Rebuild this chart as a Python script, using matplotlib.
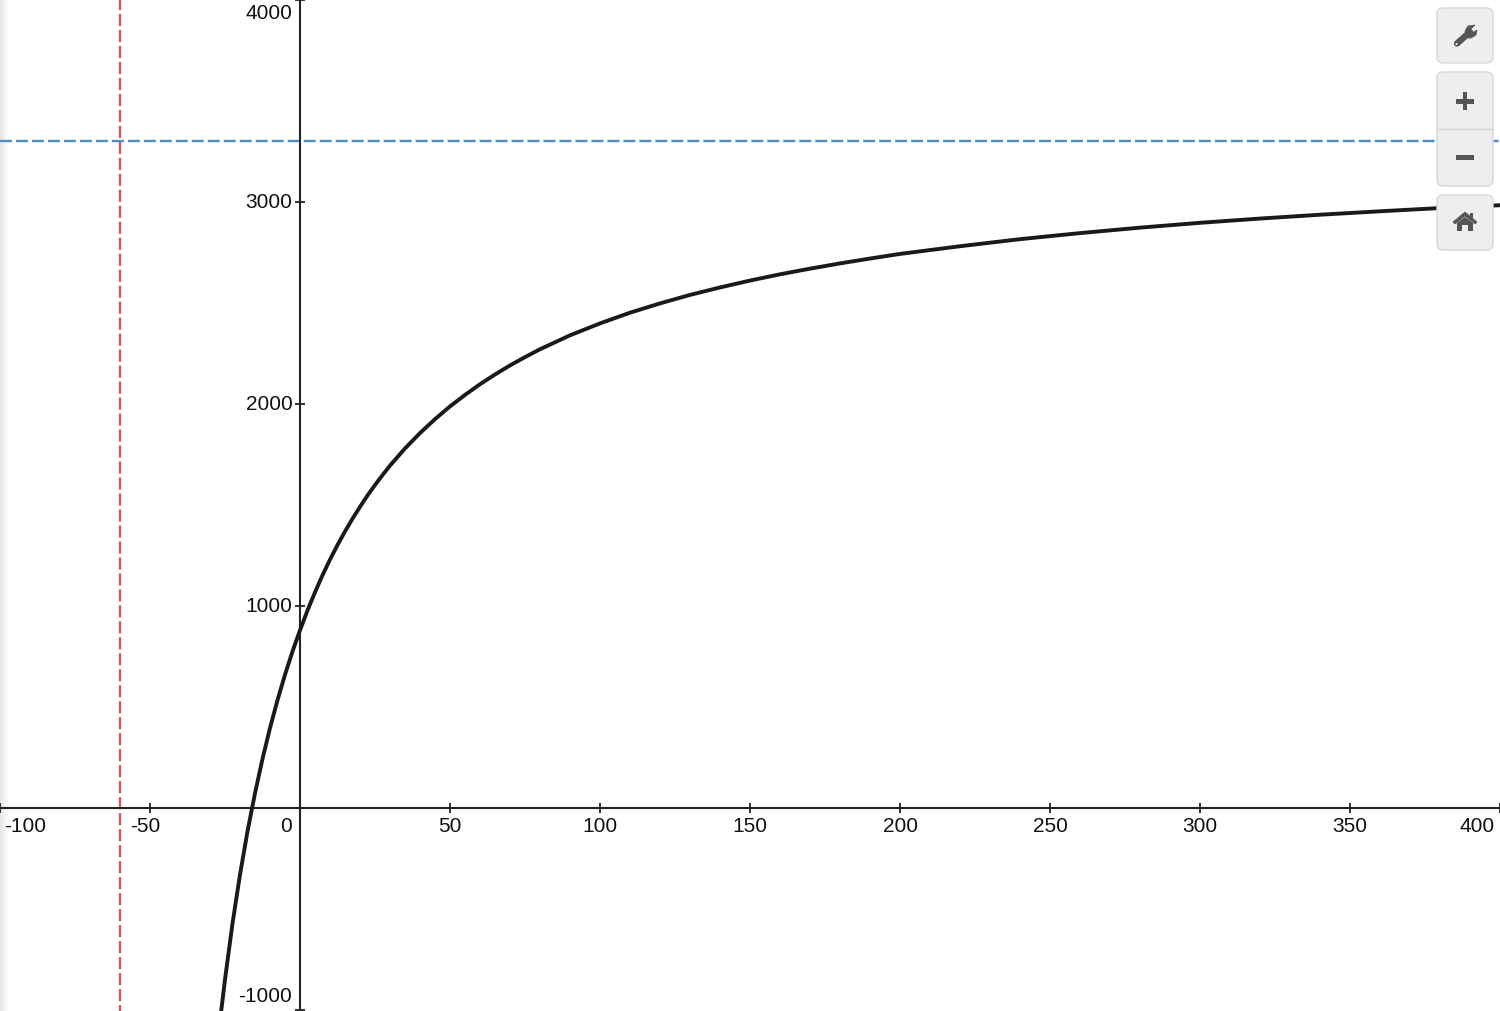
import numpy as np
import matplotlib.pyplot as plt
from matplotlib.patches import FancyBboxPatch, Polygon, Circle, Rectangle

plt.rcParams['font.family'] = ['Liberation Sans', 'DejaVu Sans']

curve_x = [-26.5, -25, -22.5, -20, -17.5, -15, -12.5, -10, -7.5, -5, -2.5, 0, 2.5, 5, 7.5, 10, 12.5, 15, 17.5, 20,
           22.5, 25, 27.5, 30, 35, 40, 45, 50, 55, 60, 65, 70, 75, 80, 90, 100, 110, 120, 130, 140,
           150, 160, 170, 180, 190, 200, 220, 240, 260, 280, 300, 320, 340, 360, 380, 400]
curve_y = [-1034, -849, -572, -330, -116, 73, 243, 396, 534, 660, 775, 880, 978, 1068, 1152, 1230, 1302, 1369, 1432, 1491,
           1547, 1599, 1648, 1695, 1780, 1856, 1925, 1988, 2045, 2098, 2146, 2191, 2232, 2271, 2340, 2399, 2452, 2498, 2540, 2577,
           2611, 2642, 2670, 2696, 2720, 2743, 2781, 2816, 2846, 2873, 2897, 2918, 2937, 2954, 2970, 2984]
asymptote_x = -60
asymptote_y = 3300
x_ticks = [-100, -50, 0, 50, 100, 150, 200, 250, 300, 350, 400]
x_labels = ['-100', '-50', '0', '50', '100', '150', '200', '250', '300', '350', '400']
y_ticks = [-1000, 1000, 2000, 3000, 4000]
y_labels = ['-1000', '1000', '2000', '3000', '4000']

fig = plt.figure(figsize=(15, 10.11), dpi=100)

# shaded left edge goes behind everything
bg = fig.add_axes([0, 0, 1, 1])
bg.axis('off')
shade = np.linspace(0.90, 1, 12).reshape(1, -1)
bg.imshow(shade, extent=(0, 9, 1011, 0), cmap='gray', vmin=0, vmax=1, aspect='auto')
bg.set_xlim(0, 1500)
bg.set_ylim(1011, 0)

ax = fig.add_axes([0, 0, 1, 1], facecolor='none')
ax.set_xlim(-100, 400)
ax.set_ylim(-1005, 4000)

for name in ['top', 'right']:
    ax.spines[name].set_visible(False)
ax.spines['left'].set_position(('data', 0))
ax.spines['bottom'].set_position(('data', 0))
ax.spines['left'].set_linewidth(1.5)
ax.spines['bottom'].set_linewidth(1.5)
ax.spines['left'].set_color('#222222')
ax.spines['bottom'].set_color('#222222')
ax.set_xticks([t for t in x_ticks if t != 0])
ax.set_yticks(y_ticks)
ax.set_xticklabels([])
ax.set_yticklabels([])
ax.tick_params(axis='both', direction='inout', length=7, width=1.3, color='#222222')

ax.axhline(asymptote_y, color='#4f8bc9', lw=1.7, linestyle=(0, (5.08, 1.69)), zorder=1)
ax.axvline(asymptote_x, color='#d0575a', lw=1.7, linestyle=(2.54, (5.08, 1.69)), zorder=1)
ax.plot(curve_x, curve_y, color='#1a1a1a', lw=2.8, zorder=3, solid_joinstyle='round')

# labels are shifted by hand where the chart pushes them inside the view
for t, s in zip(x_ticks, x_labels):
    dx = 0
    if t == -100:
        dx = 25
    elif t == -50:
        dx = -5
    elif t == 0:
        dx = -14
    elif t == 400:
        dx = -23
    ax.annotate(s, (t, 0), xytext=(dx * 0.72, -6.5), textcoords='offset points', ha='center', va='top',
                fontsize=15, color='#111111')
for t, s in zip(y_ticks, y_labels):
    dy = 0
    if t == 4000:
        dy = -13
    elif t == -1000:
        dy = 14
    ax.annotate(s, (0, t), xytext=(-5.5, dy * 0.72 - 0.3), textcoords='offset points', ha='right', va='center',
                fontsize=15, color='#111111')

# overlay in pixels for the toolbar
ov = fig.add_axes([0, 0, 1, 1], facecolor='none')
ov.set_xlim(0, 1500)
ov.set_ylim(1011, 0)
ov.axis('off')

for y0, y1 in [(8, 63), (72, 186), (195, 250)]:
    ov.add_patch(FancyBboxPatch((1443, y0 + 6), 44, y1 - y0 - 12, boxstyle='round,pad=6', fc='#eeeeee', ec='#d8d8d8',
                                lw=1, zorder=5))
ov.plot([1437, 1493], [128.5, 128.5], color='#d4d4d4', lw=1, zorder=6)

icon = '#555555'
# wrench
ov.plot([1457, 1470], [43.5, 32], color=icon, lw=4.6, solid_capstyle='round', zorder=6)
ov.add_patch(Polygon([(1465, 31), (1468, 26), (1475, 25), (1470, 30), (1472, 33), (1477, 30), (1476, 35), (1471, 38), (1467, 38)],
                     fc=icon, ec=icon, lw=0.5, zorder=6))
ov.add_patch(Circle((1456.5, 44), 1, fc='#eeeeee', ec='none', zorder=7))
# plus and minus
ov.add_patch(Rectangle((1456, 99), 18, 4.5, fc=icon, ec='none', zorder=6))
ov.add_patch(Rectangle((1462.7, 92), 4.5, 18, fc=icon, ec='none', zorder=6))
ov.add_patch(Rectangle((1456, 155), 18, 4.5, fc=icon, ec='none', zorder=6))
# home
ov.add_patch(Polygon([(1453, 222), (1465, 212), (1477, 222), (1475, 224), (1465, 216), (1455, 224)], fc=icon, ec=icon, lw=0.5, zorder=6))
ov.add_patch(Polygon([(1457, 223), (1465, 217), (1473, 223), (1473, 231), (1468, 231), (1468, 225), (1462, 225), (1462, 231), (1457, 231)],
                     fc=icon, ec='none', zorder=6))
ov.add_patch(Rectangle((1470, 212.5), 3, 6, fc=icon, ec='none', zorder=6))

fig.savefig('out.png', dpi=100)
